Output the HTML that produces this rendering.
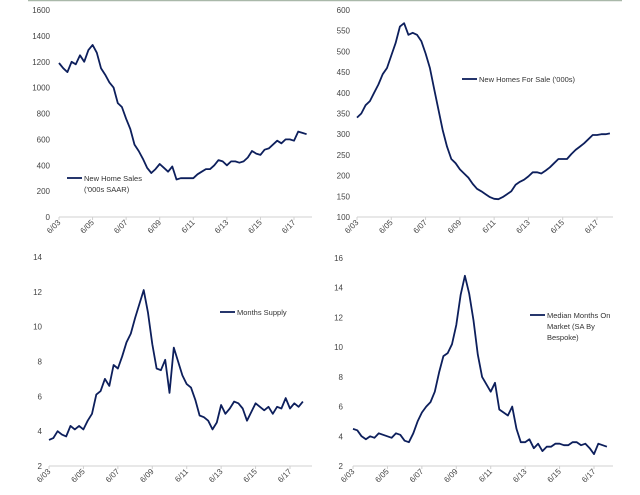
<!DOCTYPE html>
<html><head><meta charset="utf-8"><style>
body{margin:0;background:#fff;width:640px;height:495px;overflow:hidden;font-family:"Liberation Sans",sans-serif}
svg{display:block}
</style></head><body>
<svg id="s" width="640" height="495">
<line x1="28" y1="0.5" x2="622" y2="0.5" stroke="#a9b8a9" stroke-width="1.5"/>
</svg>
<script>
const xTicks = ["6/03","6/05","6/07","6/09","6/11","6/13","6/15","6/17"];
const salesVals = [1190,1150,1120,1200,1180,1250,1200,1290,1330,1270,1150,1100,1040,1000,880,850,760,680,560,510,450,380,340,370,410,380,350,390,290,300,300,300,300,330,350,370,370,400,440,430,400,430,430,420,430,460,510,490,480,520,530,560,590,570,600,600,590,660,650,640];
const invVals = [340,350,370,380,400,420,445,460,490,520,560,568,540,545,540,525,495,460,410,360,310,270,240,230,215,205,195,180,168,162,155,148,144,143,148,155,162,178,185,190,198,208,208,205,212,220,230,240,240,240,252,262,270,278,288,298,298,300,300,302];
const supplyVals = [3.5,3.6,4.0,3.8,3.7,4.3,4.1,4.3,4.1,4.6,5.0,6.1,6.3,7.0,6.6,7.8,7.6,8.3,9.1,9.6,10.5,11.3,12.1,10.8,9.0,7.6,7.5,8.1,6.2,8.8,8.0,7.2,6.7,6.5,5.8,4.9,4.8,4.6,4.1,4.5,5.5,5.0,5.3,5.7,5.6,5.3,4.6,5.1,5.6,5.4,5.2,5.4,5.0,5.4,5.3,5.9,5.3,5.6,5.4,5.7];
const domVals = [4.5,4.4,4.0,3.8,4.0,3.9,4.2,4.1,4.0,3.9,4.2,4.1,3.7,3.6,4.2,5.0,5.6,6.0,6.3,7.0,8.3,9.4,9.6,10.2,11.5,13.5,14.8,13.6,11.8,9.5,8.0,7.5,7.0,7.6,5.8,5.6,5.4,6.0,4.5,3.6,3.6,3.8,3.2,3.5,3.0,3.3,3.3,3.5,3.5,3.4,3.4,3.6,3.6,3.4,3.5,3.2,2.8,3.5,3.4,3.3];
const sTicks1=[0,200,400,600,800,1000,1200,1400,1600];
const sTicks2=[100,150,200,250,300,350,400,450,500,550,600];
const sTicks3=[2,4,6,8,10,12,14];
const sTicks4=[2,4,6,8,10,12,14,16];
const NS="http://www.w3.org/2000/svg", svg=document.getElementById('s');
function mk(tag,attrs,parent){const e=document.createElementNS(NS,tag);for(const k in attrs)e.setAttribute(k,attrs[k]);(parent||svg).appendChild(e);return e;}
function chart(cfg){
  const g=mk('g',{});
  
  
  const ymin=cfg.ticks[0], ymax=cfg.ticks[cfg.ticks.length-1];
  const y=v=>cfg.yb-(v-ymin)/(ymax-ymin)*(cfg.yb-cfg.yt);
  const x=t=>cfg.x0+t*(cfg.x17-cfg.x0)/168;
  const ax=mk('line',{x1:cfg.x0,y1:cfg.yb,x2:cfg.xe,y2:cfg.yb,stroke:'#d0d0d0','stroke-width':1},g);
  
  
  cfg.ticks.forEach(v=>{const t=mk('text',{x:cfg.lx,y:y(v)+3,'text-anchor':'end','font-size':8,fill:'#444'},g);t.textContent=v;
    
    });
  xTicks.forEach((s,i)=>{const xx=x(i*24);
    mk('line',{x1:xx,y1:cfg.yb,x2:xx,y2:cfg.yb+3,stroke:'#d0d0d0'},g);
    const t=mk('text',{x:xx+2,y:cfg.yb+6,'text-anchor':'end','font-size':8,fill:'#444',transform:`rotate(-45 ${xx+2} ${cfg.yb+6})`},g);t.textContent=s;
    
    });
  const pts=cfg.vals.map((v,i)=>x(i*3).toFixed(1)+','+y(v).toFixed(1)).join(' ');
  const p=mk('polyline',{points:pts,fill:'none',stroke:'#0d1f5c','stroke-width':1.8,'stroke-linejoin':'round'},g);
  
  
  const lg=mk('g',{},g);
  
  
  mk('line',{x1:cfg.lgx,y1:cfg.lgy,x2:cfg.lgx+15,y2:cfg.lgy,stroke:'#0d1f5c','stroke-width':1.8},lg);
  cfg.legend.forEach((s,i)=>{const t=mk('text',{x:cfg.lgx+17,y:cfg.lgy+3+i*11,'font-size':7.5,fill:'#333'},lg);t.textContent=s;});
}
chart({name:'new-home-sales-chart',vals:salesVals,ticks:sTicks1,yt:10,yb:217,x0:59,x17:294,xe:312,lx:50,lgx:67,lgy:178,legend:["New Home Sales","('000s SAAR)"]});
chart({name:'new-homes-for-sale-chart',vals:invVals,ticks:sTicks2,yt:10,yb:217,x0:357,x17:597,xe:613,lx:350,lgx:462,lgy:79,legend:["New Homes For Sale ('000s)"]});
chart({name:'months-supply-chart',vals:supplyVals,ticks:sTicks3,yt:257,yb:466,x0:49,x17:290,xe:312,lx:42,lgx:220,lgy:312,legend:["Months Supply"]});
chart({name:'median-months-on-market-chart',vals:domVals,ticks:sTicks4,yt:258,yb:466,x0:353,x17:594,xe:613,lx:343,lgx:530,lgy:315,legend:["Median Months On","Market (SA By","Bespoke)"]});
</script>
</body></html>
